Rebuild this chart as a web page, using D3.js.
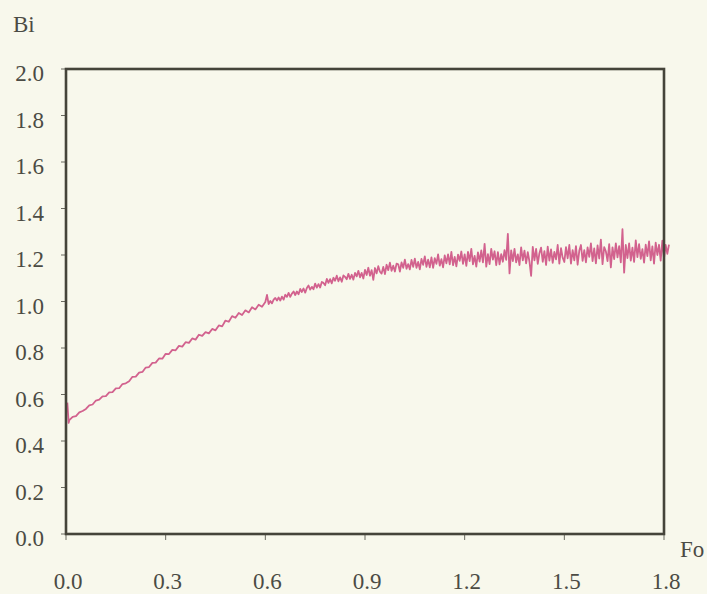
<!DOCTYPE html>
<html>
<head>
<meta charset="utf-8">
<script src="https://cdn.jsdelivr.net/npm/d3@7"></script>
<style>
  html, body { margin: 0; padding: 0; background: #f8f8ec; }
  svg { display: block; }
  text { font-family: "Times New Roman", Times, "Liberation Serif", serif; fill: #4b4b44; }
</style>
</head>
<body>
<svg id="chart" width="707" height="594"></svg>
<script>
// values (Fo on x, Bi on y)
var fo = [0.004, 0.008,
  0.01, 0.02, 0.03, 0.04, 0.05, 0.06, 0.07, 0.08, 0.09, 0.10,
  0.11, 0.12, 0.13, 0.14, 0.15, 0.16, 0.17, 0.18, 0.19, 0.20,
  0.21, 0.22, 0.23, 0.24, 0.25, 0.26, 0.27, 0.28, 0.29, 0.30,
  0.31, 0.32, 0.33, 0.34, 0.35, 0.36, 0.37, 0.38, 0.39, 0.40,
  0.41, 0.42, 0.43, 0.44, 0.45, 0.46, 0.47, 0.48, 0.49, 0.50,
  0.51, 0.52, 0.53, 0.54, 0.55, 0.56, 0.57, 0.58, 0.59,
  0.600, 0.605, 0.610, 0.615, 0.620, 0.625, 0.630, 0.635, 0.640, 0.645,
  0.650, 0.655, 0.660, 0.665, 0.670, 0.675, 0.680, 0.685, 0.690, 0.695,
  0.700, 0.705, 0.710, 0.715, 0.720, 0.725, 0.730, 0.735, 0.740, 0.745,
  0.750, 0.755, 0.760, 0.765, 0.770, 0.775, 0.780, 0.785, 0.790, 0.795,
  0.800, 0.805, 0.810, 0.815, 0.820, 0.825, 0.830, 0.835, 0.840, 0.845,
  0.850, 0.855, 0.860, 0.865, 0.870, 0.875, 0.880, 0.885, 0.890, 0.895,
  0.900, 0.905, 0.910, 0.915, 0.920, 0.925, 0.930, 0.935, 0.940, 0.945,
  0.950, 0.955, 0.960, 0.965, 0.970, 0.975, 0.980, 0.985, 0.990, 0.995,
  1.000, 1.005, 1.010, 1.015, 1.020, 1.025, 1.030, 1.035, 1.040, 1.045,
  1.050, 1.055, 1.060, 1.065, 1.070, 1.075, 1.080, 1.085, 1.090, 1.095,
  1.100, 1.105, 1.110, 1.115, 1.120, 1.125, 1.130, 1.135, 1.140, 1.145,
  1.150, 1.155, 1.160, 1.165, 1.170, 1.175, 1.180, 1.185, 1.190, 1.195,
  1.200, 1.205, 1.210, 1.215, 1.220, 1.225, 1.230, 1.235, 1.240, 1.245,
  1.250, 1.255, 1.260, 1.265, 1.270, 1.275, 1.280, 1.285, 1.290, 1.295,
  1.300, 1.305, 1.310, 1.315, 1.320, 1.325, 1.330, 1.335, 1.340, 1.345,
  1.350, 1.355, 1.360, 1.365, 1.370, 1.375, 1.380, 1.385, 1.390, 1.395,
  1.400, 1.405, 1.410, 1.415, 1.420, 1.425, 1.430, 1.435, 1.440, 1.445,
  1.450, 1.455, 1.460, 1.465, 1.470, 1.475, 1.480, 1.485, 1.490, 1.495,
  1.500, 1.505, 1.510, 1.515, 1.520, 1.525, 1.530, 1.535, 1.540, 1.545,
  1.550, 1.555, 1.560, 1.565, 1.570, 1.575, 1.580, 1.585, 1.590, 1.595,
  1.600, 1.605, 1.610, 1.615, 1.620, 1.625, 1.630, 1.635, 1.640, 1.645,
  1.650, 1.655, 1.660, 1.665, 1.670, 1.675, 1.680, 1.685, 1.690, 1.695,
  1.700, 1.705, 1.710, 1.715, 1.720, 1.725, 1.730, 1.735, 1.740, 1.745,
  1.750, 1.755, 1.760, 1.765, 1.770, 1.775, 1.780, 1.785, 1.790, 1.795,
  1.800, 1.805, 1.810, 1.815];

var bi = [0.565, 0.478,
  0.490, 0.504, 0.507, 0.523, 0.529, 0.538, 0.553, 0.557, 0.574, 0.578,
  0.592, 0.593, 0.609, 0.610, 0.626, 0.627, 0.645, 0.648, 0.657, 0.676,
  0.677, 0.694, 0.697, 0.716, 0.718, 0.736, 0.737, 0.755, 0.754, 0.775,
  0.774, 0.792, 0.790, 0.809, 0.806, 0.825, 0.822, 0.841, 0.836, 0.857,
  0.852, 0.868, 0.863, 0.882, 0.876, 0.897, 0.893, 0.918, 0.913, 0.937,
  0.930, 0.951, 0.942, 0.962, 0.953, 0.975, 0.966, 0.986, 0.977,
  0.998, 1.028, 0.989, 1.002, 0.992, 1.008, 1.015, 1.004, 1.017, 1.004,
  1.021, 1.008, 1.029, 1.020, 1.037, 1.020, 1.034, 1.043, 1.028, 1.043,
  1.031, 1.054, 1.041, 1.056, 1.038, 1.058, 1.069, 1.051, 1.063, 1.053,
  1.077, 1.060, 1.075, 1.060, 1.084, 1.080, 1.070, 1.097, 1.080, 1.096,
  1.078, 1.102, 1.089, 1.111, 1.087, 1.104, 1.085, 1.112, 1.106, 1.096,
  1.119, 1.097, 1.115, 1.094, 1.123, 1.108, 1.132, 1.104, 1.123, 1.099,
  1.136, 1.114, 1.145, 1.111, 1.135, 1.093, 1.144, 1.121, 1.152, 1.128,
  1.120, 1.149, 1.118, 1.158, 1.135, 1.167, 1.132, 1.154, 1.129, 1.163,
  1.160, 1.129, 1.168, 1.145, 1.180, 1.141, 1.161, 1.138, 1.179, 1.149,
  1.184, 1.145, 1.170, 1.138, 1.183, 1.158, 1.194, 1.149, 1.180, 1.147,
  1.190, 1.145, 1.186, 1.162, 1.203, 1.154, 1.182, 1.147, 1.198, 1.164,
  1.203, 1.160, 1.213, 1.156, 1.192, 1.151, 1.202, 1.175, 1.215, 1.162,
  1.203, 1.153, 1.213, 1.174, 1.226, 1.160, 1.196, 1.150, 1.211, 1.172,
  1.220, 1.168, 1.248, 1.150, 1.204, 1.161, 1.226, 1.180, 1.216, 1.156,
  1.212, 1.160, 1.204, 1.171, 1.221, 1.179, 1.291, 1.121, 1.220, 1.174,
  1.226, 1.168, 1.203, 1.157, 1.233, 1.177, 1.219, 1.164, 1.212, 1.172,
  1.110, 1.235, 1.177, 1.226, 1.162, 1.208, 1.232, 1.171, 1.217, 1.157,
  1.236, 1.176, 1.224, 1.166, 1.213, 1.181, 1.243, 1.163, 1.229, 1.188,
  1.170, 1.234, 1.186, 1.243, 1.163, 1.221, 1.177, 1.238, 1.158, 1.218,
  1.243, 1.175, 1.221, 1.168, 1.233, 1.192, 1.250, 1.174, 1.228, 1.164,
  1.241, 1.185, 1.266, 1.161, 1.234, 1.216, 1.174, 1.247, 1.147, 1.233,
  1.182, 1.250, 1.190, 1.238, 1.168, 1.311, 1.124, 1.243, 1.187, 1.250,
  1.176, 1.232, 1.170, 1.263, 1.191, 1.247, 1.183, 1.225, 1.167, 1.244,
  1.195, 1.259, 1.177, 1.237, 1.163, 1.253, 1.200, 1.244, 1.176, 1.262,
  1.185, 1.243, 1.205, 1.245];

var xTicks = [0, 0.3, 0.6, 0.9, 1.2, 1.5, 1.8];
var yTicks = [0, 0.2, 0.4, 0.6, 0.8, 1.0, 1.2, 1.4, 1.6, 1.8, 2.0];

var svg = d3.select('#chart');
var x = d3.scaleLinear().domain([0, 1.8]).range([66, 664]);
var y = d3.scaleLinear().domain([0, 2]).range([534, 69]);

// y ticks + labels
svg.append('g')
  .selectAll('line')
  .data(yTicks)
  .enter().append('line')
    .attr('x1', 61).attr('x2', 66)
    .attr('y1', function(d) { return y(d); })
    .attr('y2', function(d) { return y(d); })
    .attr('stroke', '#6a6a60').attr('stroke-width', 1);

svg.append('g')
  .attr('font-size', 23)
  .attr('text-anchor', 'end')
  .selectAll('text')
  .data(yTicks)
  .enter().append('text')
    .attr('x', 44)
    .attr('y', function(d) { return y(d) + 12; })
    .text(function(d) { return d.toFixed(1); });

// x ticks + labels
svg.append('g')
  .selectAll('line')
  .data(xTicks)
  .enter().append('line')
    .attr('x1', function(d) { return x(d); })
    .attr('x2', function(d) { return x(d); })
    .attr('y1', 534).attr('y2', 540)
    .attr('stroke', '#6a6a60').attr('stroke-width', 1);

svg.append('g')
  .attr('font-size', 23)
  .attr('text-anchor', 'middle')
  .selectAll('text')
  .data(xTicks)
  .enter().append('text')
    .attr('x', function(d) { return x(d) + 2; })
    .attr('y', 589)
    .text(function(d) { return d.toFixed(1); });

// the curve
var line = d3.line()
  .x(function(d, i) { return x(fo[i]); })
  .y(function(d) { return y(d); });

svg.append('path')
  .datum(bi)
  .attr('d', line)
  .attr('fill', 'none')
  .attr('stroke', '#d2628e')
  .attr('stroke-width', 1.8)
  .attr('stroke-linejoin', 'round');

// frame
svg.append('rect')
  .attr('x', x(0)).attr('y', y(2))
  .attr('width', x(1.8) - x(0))
  .attr('height', y(0) - y(2))
  .attr('fill', 'none')
  .attr('stroke', '#45443a')
  .attr('stroke-width', 2.6);

// axis names
svg.append('text').attr('x', 13).attr('y', 32).attr('font-size', 23).text('Bi');
svg.append('text').attr('x', 680).attr('y', 557).attr('font-size', 23).text('Fo');
</script>
</body>
</html>
